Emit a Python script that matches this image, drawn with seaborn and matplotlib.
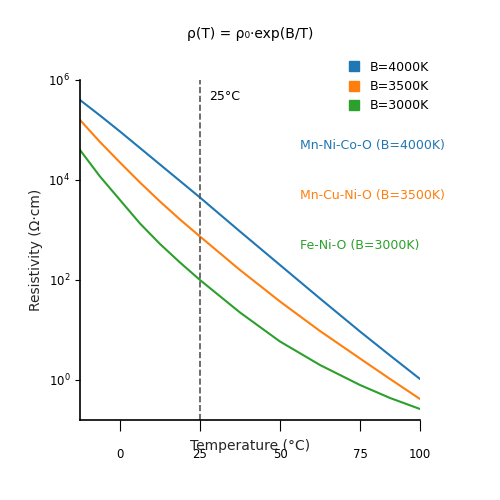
import matplotlib
matplotlib.use("Agg")
import matplotlib.pyplot as plt
import matplotlib.ticker as mticker
import numpy as np
import pandas as pd
import seaborn as sns

# temperatures (°C, axis position)
temps = [-12.5, -6.25, 0, 6.25, 12.5, 18.75, 25, 37.5, 50, 62.5, 75, 84.4, 93.75]
# log10 resistivity
log_b4000 = [5.6, 5.29, 4.97, 4.64, 4.31, 3.98, 3.65, 2.97, 2.3, 1.63, 0.97, 0.49, 0.02]
log_b3500 = [5.2, 4.76, 4.35, 3.95, 3.57, 3.21, 2.87, 2.2, 1.57, 0.98, 0.43, 0.02, -0.38]
log_b3000 = [4.6, 4.07, 3.6, 3.13, 2.72, 2.35, 2.0, 1.35, 0.77, 0.3, -0.1, -0.36, -0.58]

series = ["B=4000K", "B=3500K", "B=3000K"]
materials = ["Mn-Ni-Co-O (B=4000K)", "Mn-Cu-Ni-O (B=3500K)", "Fe-Ni-O (B=3000K)"]
colors = ["#1f77b4", "#ff7f0e", "#2ca02c"]

df = pd.concat([
    pd.DataFrame({"T": temps, "rho": 10 ** np.array(v), "B": s})
    for v, s in zip([log_b4000, log_b3500, log_b3000], series)
])

sns.set_style("ticks", {"axes.edgecolor": "black", "xtick.color": "black",
                        "ytick.color": "black", "text.color": "black"})
fig = plt.figure(figsize=(5, 5), dpi=100)
ax = fig.add_axes([0.16, 0.16, 0.68, 0.68])

sns.lineplot(data=df, x="T", y="rho", hue="B", palette=colors, ax=ax,
             legend=False, linewidth=1.5)
ax.set_yscale("log")
ax.set_ylim(10 ** -0.8, 1e6)
ax.set_xlim(-12.5, 93.75)
ax.yaxis.set_major_locator(mticker.FixedLocator([1, 1e2, 1e4, 1e6]))
ax.yaxis.set_minor_locator(mticker.NullLocator())
ax.set_xticks([0, 25, 50, 75, 93.75])
ax.set_xticklabels(["0", "25", "50", "75", "100"])
ax.tick_params(axis="x", length=8, pad=12, labelsize=8.5, colors="black")
ax.tick_params(axis="y", labelsize=8.5, colors="black")
for sp in ax.spines.values():
    sp.set_color("black")
    sp.set_linewidth(1.2)

ax.axvline(25, color="#555555", linestyle="--", linewidth=1.2)
ax.text(28, 10 ** 5.68, "25°C", fontsize=9, va="center")

for i, (m, c) in enumerate(zip(materials, colors)):
    ax.text(56.25, 10 ** (4.68 - i), m, color=c, fontsize=9, va="center")

for s, c in zip(series, colors):
    ax.plot([], [], marker="s", linestyle="none", color=c, markersize=7, label=s)
ax.legend(loc="upper right", bbox_to_anchor=(1.06, 1.09), frameon=False,
          fontsize=9, handletextpad=0.3, labelspacing=0.5)

ax.set_title("ρ(T) = ρ₀·exp(B/T)", fontsize=10, pad=30)
ax.set_xlabel("Temperature (°C)", labelpad=-16)
ax.set_ylabel("Resistivity (Ω·cm)")
sns.despine(ax=ax)

fig.savefig("out.png", dpi=100)
